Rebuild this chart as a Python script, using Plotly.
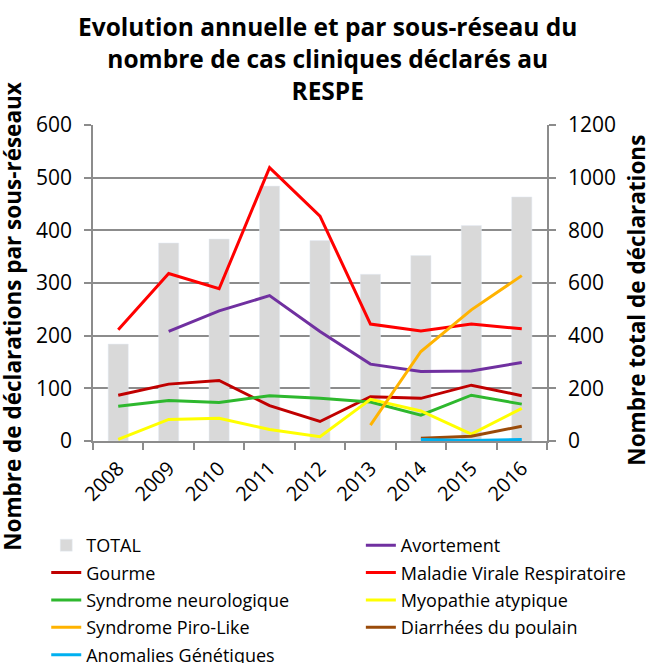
import plotly.graph_objects as go

years = ["2008", "2009", "2010", "2011", "2012", "2013", "2014", "2015", "2016"]
total = [368, 752, 767, 968, 761, 633, 704, 818, 927]

avortement = [None, 208, 247, 276, 208, 146, 132, 133, 149]
gourme = [87, 108, 115, 67, 37, 84, 81, 106, 86]
mvr = [211, 318, 289, 519, 427, 222, 209, 222, 213]
neuro = [66, 77, 73, 86, 81, 74, 49, 87, 70]
myopathie = [3, 41, 43, 22, 8, 79, 57, 13, 62]
piro = [None, None, None, None, None, 30, 170, 249, 314]
diarrhees = [None, None, None, None, None, None, 5, 9, 28]
anomalies = [None, None, None, None, None, None, 3, 1, 3]

# (name, values, colour, legend column)
series = [
    ("Avortement", avortement, "#7030A0", "legend2"),
    ("Gourme", gourme, "#C00000", "legend"),
    ("Maladie Virale Respiratoire", mvr, "#FF0000", "legend2"),
    ("Syndrome neurologique", neuro, "#2EB82E", "legend"),
    ("Myopathie atypique", myopathie, "#FFFF00", "legend2"),
    ("Syndrome Piro-Like", piro, "#FFB300", "legend"),
    ("Diarrhées du poulain", diarrhees, "#9A4B0A", "legend2"),
    ("Anomalies Génétiques", anomalies, "#00B0F0", "legend"),
]

FONT = "Open Sans"
GRID = "#8C8C8C"

fig = go.Figure()

# bars on the first y axis so they sit under the lines; that axis is shown on the right
fig.add_trace(go.Bar(
    x=years, y=total, name="TOTAL", marker_color="#D9D9D9",
    width=0.4, yaxis="y", legend="legend", legendgroup="TOTAL",
))

for name, vals, color, leg in series:
    fig.add_trace(go.Scatter(
        x=years, y=vals, name=name, mode="lines",
        line=dict(color=color, width=3), yaxis="y2",
        legend=leg, legendgroup=name,
    ))

legend_common = dict(
    orientation="v", yanchor="top", y=-0.272, xanchor="left",
    traceorder="grouped", tracegroupgap=1,
    font=dict(family=FONT, size=18), bgcolor="rgba(0,0,0,0)",
)

fig.update_layout(
    width=648, height=663,
    margin=dict(l=93, r=101, t=125, b=222, autoexpand=False),
    paper_bgcolor="white", plot_bgcolor="white",
    font=dict(family=FONT, size=19, color="black"),
    xaxis=dict(
        type="category", tickson="boundaries", ticks="outside", ticklen=7,
        tickcolor=GRID, tickwidth=1.5, showline=True, linecolor=GRID, linewidth=1.5,
        tickangle=-45, showgrid=False, tickfont=dict(size=20), ticklabelstandoff=6,
    ),
    yaxis=dict(
        side="right", range=[0, 1200], dtick=200, showgrid=True,
        gridcolor=GRID, gridwidth=1.5, showline=True, linecolor=GRID, linewidth=1.5,
        ticks="outside", ticklen=7, tickcolor=GRID, tickwidth=1.5,
        zeroline=False, tickfont=dict(size=21), ticklabelstandoff=8,
    ),
    yaxis2=dict(
        overlaying="y", side="left", range=[0, 600], dtick=100, showgrid=False,
        showline=True, linecolor=GRID, linewidth=1.5,
        ticks="outside", ticklen=7, tickcolor=GRID, tickwidth=1.5,
        zeroline=False, tickfont=dict(size=21), ticklabelstandoff=8,
    ),
    legend=dict(legend_common, x=-0.103),
    legend2=dict(legend_common, x=0.590),
    annotations=[
        dict(text="<b>Evolution annuelle et par sous-réseau du<br>nombre de cas cliniques déclarés au<br>RESPE</b>",
             xref="paper", yref="paper", x=0.517, y=1.212, xanchor="center", yanchor="middle",
             showarrow=False, font=dict(family=FONT, size=24.5)),
        dict(text="<b>Nombre de déclarations par sous-réseaux</b>", textangle=-90,
             xref="paper", yref="paper", x=-0.177, y=0.395, xanchor="center", yanchor="middle",
             showarrow=False, font=dict(family=FONT, size=22.5)),
        dict(text="<b>Nombre total de déclarations</b>", textangle=-90,
             xref="paper", yref="paper", x=1.198, y=0.447, xanchor="center", yanchor="middle",
             showarrow=False, font=dict(family=FONT, size=22.5)),
    ],
)

# drop the browser's default 8px body margin so the figure fills the window
fig.write_html(
    "out.html",
    config={"displayModeBar": False},
    post_script="document.body.style.margin = '0';",
)
